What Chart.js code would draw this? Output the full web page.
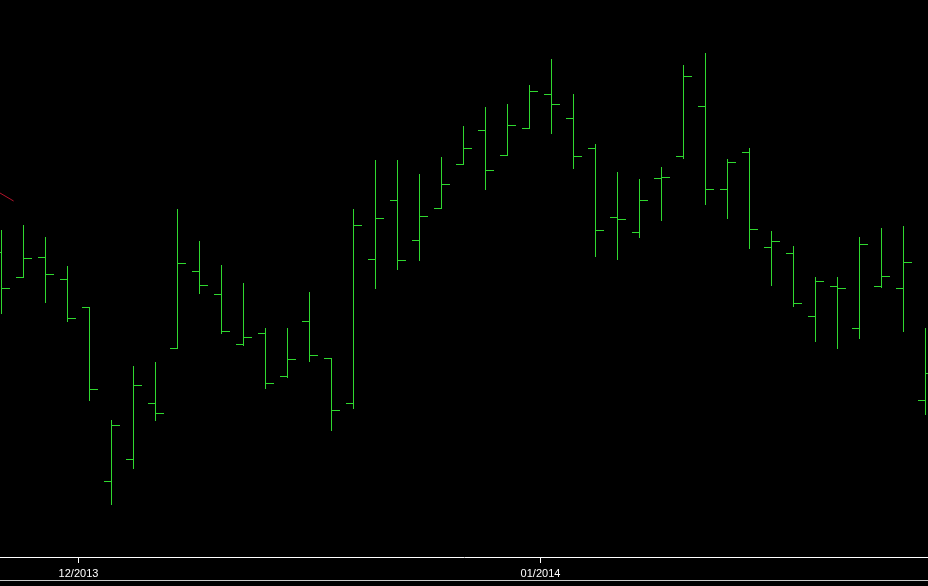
<!DOCTYPE html>
<html>
<head>
<meta charset="utf-8">
<script src="https://cdn.jsdelivr.net/npm/chart.js@4.4.1/dist/chart.umd.min.js"></script>
<style>
  html, body { margin: 0; padding: 0; background: #000; overflow: hidden; }
  #wrap { position: relative; width: 928px; height: 586px; }
  #bottomLine { position: absolute; left: 0; top: 580px; width: 928px; height: 1px; background: #c8c8c8; }
</style>
</head>
<body>
<div id="wrap">
  <canvas id="ohlc" width="928" height="586"></canvas>
  <div id="bottomLine"></div>
</div>
<script>
// daily bars, 25 Nov 2013 .. 28 Jan 2014 (price units)
const opens  = [30.5, 28.0, 30.0, 27.8, 25.0, 7.6, 9.8, 15.4, 20.9, 28.6, 26.3, 21.3, 22.4, 18.1, 23.6, 19.9, 15.4, 29.8, 35.7, 31.7, 34.9, 39.3, 42.7, 40.2, 42.9, 46.3, 43.9, 40.9, 34.0, 32.5, 37.9, 40.1, 45.1, 36.8, 40.5, 31.0, 30.4, 24.1, 27.1, 22.9, 27.1, 26.9, 15.7];
const highs  = [32.7, 33.2, 32.0, 29.1, 25.0, 13.7, 19.1, 19.5, 34.8, 31.6, 29.2, 27.4, 22.9, 22.9, 26.5, 19.9, 34.8, 39.7, 39.7, 38.3, 40.0, 43.1, 45.0, 45.3, 47.2, 49.8, 46.3, 41.3, 38.5, 37.8, 39.0, 49.2, 50.4, 39.8, 40.9, 32.6, 31.1, 28.0, 28.0, 32.0, 32.9, 33.1, 22.9];
const lows   = [24.3, 28.0, 25.4, 23.5, 15.6, 5.2, 8.8, 13.6, 20.9, 26.3, 22.3, 21.1, 16.8, 17.9, 19.5, 12.6, 14.8, 26.8, 28.7, 29.6, 34.9, 39.3, 36.7, 40.2, 42.9, 42.3, 38.8, 30.0, 29.7, 31.9, 33.6, 39.8, 35.2, 33.8, 30.8, 27.1, 25.0, 21.5, 20.8, 21.8, 26.9, 22.5, 14.2];
const closes = [26.9, 29.9, 28.3, 23.9, 16.8, 13.2, 17.2, 14.4, 29.4, 27.2, 22.6, 22.0, 17.4, 19.8, 20.2, 14.7, 33.2, 33.9, 29.7, 34.1, 37.3, 40.9, 38.7, 43.2, 46.6, 45.3, 40.1, 32.7, 33.8, 35.7, 38.0, 48.1, 36.8, 39.5, 32.8, 31.6, 25.4, 27.6, 26.9, 31.3, 28.1, 29.5, 18.4];

// month labels and the bar index where each month starts
const months = ['12/2013', '01/2014'];
const monthStart = [4, 25];

// end of the red indicator line visible at the left edge
const redX = [-0.07, 0.55];
const redY = [36.4, 35.6];

const green = '#2fd82f';

// open tick sits left of the bar, close tick right of it
function tickImage(side) {
    const c = document.createElement('canvas');
    c.width = 17;
    c.height = 2;
    const g = c.getContext('2d');
    g.fillStyle = green;
    if (side == 'left') {
        g.fillRect(1, 1, 8, 1);
    } else {
        g.fillRect(8, 1, 9, 1);
    }
    return c;
}

const openImg = tickImage('left');
const closeImg = tickImage('right');

const idx = highs.map((h, i) => i);

new Chart(document.getElementById('ohlc'), {
    type: 'bar',
    data: {
        datasets: [
            {
                type: 'bar',
                data: idx.map(i => ({ x: i, y: [lows[i], highs[i]] })),
                backgroundColor: green,
                borderWidth: 0,
                barThickness: 1,
                inflateAmount: 0
            },
            {
                type: 'scatter',
                data: idx.map(i => ({ x: i, y: opens[i] })),
                pointStyle: openImg,
                pointRadius: 1,
                pointHoverRadius: 1
            },
            {
                type: 'scatter',
                data: idx.map(i => ({ x: i, y: closes[i] })),
                pointStyle: closeImg,
                pointRadius: 1,
                pointHoverRadius: 1
            },
            {
                type: 'line',
                data: redX.map((x, i) => ({ x: x, y: redY[i] })),
                borderColor: '#b3142c',
                borderWidth: 1,
                pointRadius: 0
            }
        ]
    },
    options: {
        responsive: false,
        animation: false,
        events: [],
        layout: { padding: 0, autoPadding: false },
        plugins: { legend: { display: false }, tooltip: { enabled: false } },
        scales: {
            x: {
                type: 'linear',
                offset: false,
                min: -1.5 / 22,
                max: 926.5 / 22,
                afterBuildTicks: s => { s.ticks = monthStart.map(i => ({ value: i - 0.5 })); },
                afterFit: s => { s.height = 29; },
                ticks: {
                    autoSkip: false,
                    maxRotation: 0,
                    padding: 4,
                    color: '#fff',
                    font: { family: 'Liberation Sans, Arial, sans-serif', size: 11 },
                    callback: (v, i) => months[i]
                },
                grid: { offset: false, drawOnChartArea: false, drawTicks: true, tickLength: 6, color: '#fff' },
                border: { display: true, color: '#fff', width: 1 }
            },
            y: {
                display: false,
                min: 0,
                max: 55.7
            }
        }
    }
});
</script>
</body>
</html>
